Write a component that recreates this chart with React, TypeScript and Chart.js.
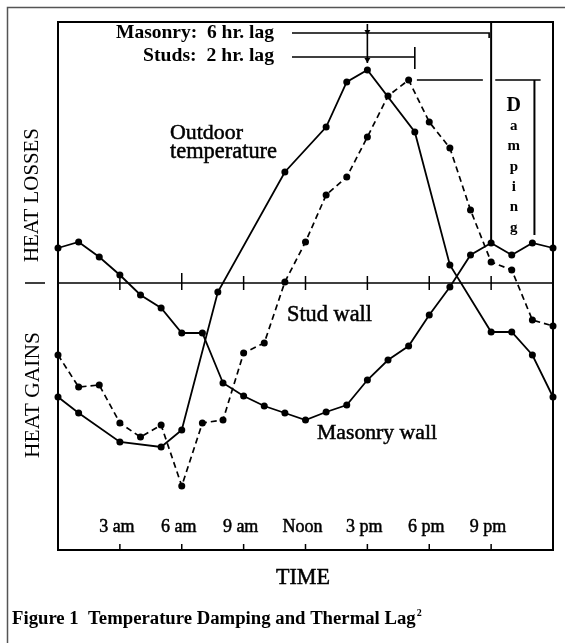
import { useEffect, useRef } from "react";
import { Chart, registerables } from "chart.js";

Chart.register(...registerables);

// ---- data (hours of the day, heat flow in arbitrary units; + = heat losses, - = heat gains)
const HOURS = [0, 1, 2, 3, 4, 5, 6, 7, 8, 9, 10, 11, 12, 13, 14, 15, 16, 17, 18, 19, 20, 21, 22, 23, 24];
const MASONRY = [3.5, 4.1, 2.6, 0.8, -1.2, -2.5, -5.0, -5.0, -10.0, -11.3, -12.3, -13.0, -13.7, -12.9, -12.2, -9.7, -7.7, -6.3, -3.2, -0.4, 2.8, 4.0, 2.8, 4.0, 3.5];
const STUD = [-7.2, -10.4, -10.2, -14.0, -15.4, -14.2, -20.3, -14.0, -13.7, -7.0, -6.0, 0.1, 4.1, 8.8, 10.6, 14.6, 18.7, 20.3, 16.1, 13.5, 7.3, 2.1, 1.3, -3.7, -4.3];
const OUTDOOR_HOURS = [0, 1, 3, 5, 6, 7.75, 11, 13, 14, 15, 17.3, 19, 21, 22, 23, 24];
const OUTDOOR = [-11.4, -13.0, -15.9, -16.4, -14.7, -0.9, 11.1, 15.6, 20.1, 21.3, 15.1, 1.8, -4.9, -4.9, -7.2, -11.4];
const TICK_HOURS = [3, 6, 9, 12, 15, 18, 21];
const TICK_LABELS = ["3 am", "6 am", "9 am", "Noon", "3 pm", "6 pm", "9 pm"];
const DAMPING_LETTERS = ["D", "a", "m", "p", "i", "n", "g"];

const SERIF = "'Liberation Serif', 'Times New Roman', serif";

function fitFont(ctx: CanvasRenderingContext2D, text: string, width: number, weight: string) {
  ctx.font = `${weight} 20px ${SERIF}`;
  const w = ctx.measureText(text).width;
  const size = (20 * width) / w;
  ctx.font = `${weight} ${size.toFixed(2)}px ${SERIF}`;
}

function heavyText(ctx: CanvasRenderingContext2D, text: string, x: number, y: number) {
  ctx.fillText(text, x, y);
  ctx.lineWidth = 0.5;
  ctx.strokeText(text, x, y);
}

const decor = {
  id: "decor",
  afterDraw(chart: any) {
    const ctx: CanvasRenderingContext2D = chart.ctx;
    const { left, right, top, bottom } = chart.chartArea;
    const xs = chart.scales.x;
    const ys = chart.scales.y;
    const y0 = ys.getPixelForValue(0);
    ctx.save();

    // outer figure frame
    ctx.strokeStyle = "#555";
    ctx.lineWidth = 1.5;
    ctx.beginPath();
    ctx.moveTo(7.5, 643);
    ctx.lineTo(7.5, 7.5);
    ctx.lineTo(565, 7.5);
    ctx.stroke();

    // plot box
    ctx.strokeStyle = "#000";
    ctx.lineWidth = 2;
    ctx.strokeRect(left, top, right - left, bottom - top);

    // zero line with ticks
    ctx.lineWidth = 1.5;
    ctx.beginPath();
    ctx.moveTo(25, y0);
    ctx.lineTo(45, y0);
    ctx.moveTo(left, y0);
    ctx.lineTo(right, y0);
    TICK_HOURS.forEach((h) => {
      const x = xs.getPixelForValue(h);
      const up = h === 6 ? 10 : 7;
      ctx.moveTo(x, y0 - up);
      ctx.lineTo(x, y0 + 7);
      ctx.moveTo(x, bottom);
      ctx.lineTo(x, bottom - 6);
    });
    ctx.stroke();

    // lag annotations
    const xPeakOut = xs.getPixelForValue(15);
    const xPeakStud = xs.getPixelForValue(17.3);
    const xPeakMas = xs.getPixelForValue(21);
    ctx.lineWidth = 1.6;
    ctx.beginPath();
    ctx.moveTo(292, 33);
    ctx.lineTo(xPeakMas - 2, 33);
    ctx.lineTo(xPeakMas - 2, 38);
    ctx.moveTo(292, 57);
    ctx.lineTo(xPeakStud, 57);
    ctx.moveTo(xPeakStud, 47);
    ctx.lineTo(xPeakStud, 69);
    ctx.moveTo(xPeakOut, top + 2);
    ctx.lineTo(xPeakOut, 63);
    ctx.stroke();
    ctx.fillStyle = "#000";
    [33, 61].forEach((yy) => {
      ctx.beginPath();
      ctx.moveTo(xPeakOut - 3, yy - 3);
      ctx.lineTo(xPeakOut + 3, yy - 3);
      ctx.lineTo(xPeakOut, yy + 2);
      ctx.closePath();
      ctx.fill();
    });

    // damping bracket
    const yStudPeak = ys.getPixelForValue(Math.max(...STUD));
    const yMasPeak = ys.getPixelForValue(Math.max(...MASONRY));
    ctx.lineWidth = 2;
    ctx.beginPath();
    ctx.moveTo(xPeakMas, top);
    ctx.lineTo(xPeakMas, yMasPeak);
    ctx.stroke();
    ctx.lineWidth = 1.6;
    ctx.beginPath();
    ctx.moveTo(xs.getPixelForValue(17.4), yStudPeak);
    ctx.lineTo(xs.getPixelForValue(20.6), yStudPeak);
    ctx.moveTo(xs.getPixelForValue(21.2), yStudPeak);
    ctx.lineTo(xs.getPixelForValue(23.4), yStudPeak);
    ctx.stroke();
    ctx.lineWidth = 2;
    const xBr = xs.getPixelForValue(23.1);
    ctx.beginPath();
    ctx.moveTo(xBr, yStudPeak);
    ctx.lineTo(xBr, yMasPeak - 7);
    ctx.stroke();

    ctx.fillStyle = "#000";
    ctx.strokeStyle = "#000";
    ctx.textBaseline = "middle";
    ctx.textAlign = "center";
    const xLetters = xs.getPixelForValue(22.1);
    DAMPING_LETTERS.forEach((ch, i) => {
      ctx.font = i === 0 ? `bold 20px ${SERIF}` : `bold 15px ${SERIF}`;
      ctx.fillText(ch, xLetters, 106 + i * 20.3);
    });

    // texts
    ctx.textAlign = "right";
    fitFont(ctx, "Masonry:  6 hr. lag", 158, "bold");
    ctx.fillText("Masonry:  6 hr. lag", 274, 33);
    fitFont(ctx, "Studs:  2 hr. lag", 131, "bold");
    ctx.fillText("Studs:  2 hr. lag", 274, 56);

    ctx.textAlign = "left";
    fitFont(ctx, "Outdoor", 73, "normal");
    heavyText(ctx, "Outdoor", 170, 133);
    fitFont(ctx, "temperature", 107, "normal");
    heavyText(ctx, "temperature", 170, 152);
    fitFont(ctx, "Stud wall", 85, "normal");
    heavyText(ctx, "Stud wall", 287, 315);
    fitFont(ctx, "Masonry wall", 120, "normal");
    heavyText(ctx, "Masonry wall", 317, 433);

    ctx.textAlign = "center";
    ctx.font = `18px ${SERIF}`;
    TICK_HOURS.forEach((h, i) => {
      heavyText(ctx, TICK_LABELS[i], xs.getPixelForValue(h) - 3, 527);
    });

    fitFont(ctx, "TIME", 54, "normal");
    heavyText(ctx, "TIME", 303, 578);

    ctx.textAlign = "left";
    const cap = "Figure 1  Temperature Damping and Thermal Lag";
    fitFont(ctx, cap, 404, "bold");
    ctx.fillText(cap, 12, 619);
    const cw = ctx.measureText(cap).width;
    ctx.font = `bold 10px ${SERIF}`;
    ctx.fillText("2", 12 + cw + 1, 613);

    // vertical axis labels
    ctx.save();
    ctx.translate(33, 195);
    ctx.rotate(-Math.PI / 2);
    ctx.textAlign = "center";
    fitFont(ctx, "HEAT LOSSES", 134, "normal");
    ctx.fillText("HEAT LOSSES", 0, 0);
    ctx.restore();
    ctx.save();
    ctx.translate(33, 395);
    ctx.rotate(-Math.PI / 2);
    ctx.textAlign = "center";
    fitFont(ctx, "HEAT GAINS", 126, "normal");
    ctx.fillText("HEAT GAINS", 0, 0);
    ctx.restore();

    ctx.restore();
  },
};

export default function App() {
  const ref = useRef<HTMLCanvasElement>(null);
  useEffect(() => {
    const canvas = ref.current;
    if (!canvas) return;
    const common = {
      borderColor: "#000",
      backgroundColor: "#000",
      pointBackgroundColor: "#000",
      pointBorderColor: "#000",
      pointRadius: 3.5,
      pointBorderWidth: 0,
      borderWidth: 1.8,
      fill: false,
      tension: 0,
      clip: false as const,
    };
    const chart = new Chart(canvas, {
      type: "line",
      data: {
        datasets: [
          {
            ...common,
            label: "Outdoor temperature",
            data: OUTDOOR_HOURS.map((h, i) => ({ x: h, y: OUTDOOR[i] })),
          },
          {
            ...common,
            label: "Masonry wall",
            data: HOURS.map((h, i) => ({ x: h, y: MASONRY[i] })),
          },
          {
            ...common,
            label: "Stud wall",
            borderDash: [6, 4],
            borderWidth: 1.7,
            data: HOURS.map((h, i) => ({ x: h, y: STUD[i] })),
          },
        ],
      },
      options: {
        responsive: false,
        animation: false,
        devicePixelRatio: 1,
        layout: { padding: { left: 58, right: 12, top: 22, bottom: 93 } },
        scales: {
          x: { type: "linear", min: 0, max: 24, display: false },
          y: { type: "linear", min: -26.7, max: 26.1, display: false },
        },
        plugins: { legend: { display: false }, tooltip: { enabled: false } },
      },
      plugins: [decor],
    });
    return () => chart.destroy();
  }, []);
  return (
    <div style={{ position: "absolute", left: 0, top: 0, width: 565, height: 643, background: "#fff" }}>
      <canvas ref={ref} width={565} height={643} style={{ display: "block" }} />
    </div>
  );
}
